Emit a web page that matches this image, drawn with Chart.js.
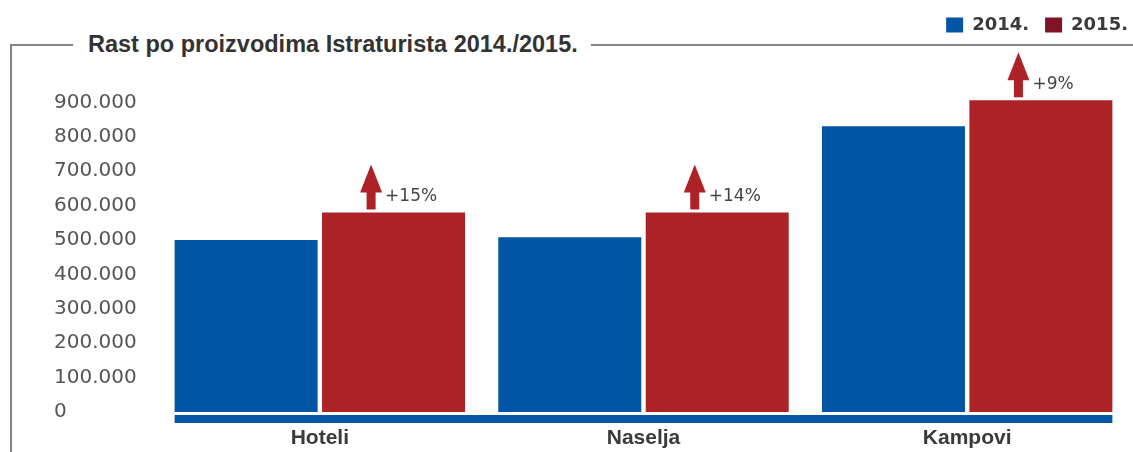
<!DOCTYPE html>
<html>
<head>
<meta charset="utf-8">
<script src="https://cdn.jsdelivr.net/npm/chart.js@4/dist/chart.umd.min.js"></script>
<style>
  body { margin: 0; background: #fff; }
  #wrap { position: relative; width: 1133px; height: 452px; overflow: hidden; background: #fff; }
  #frame { position: absolute; left: 10px; top: 44px; width: 1121px; height: 420px; border: 2px solid #858585; border-bottom: none; }
  #title { position: absolute; left: 73px; top: 31px; padding: 0 13px 0 15px; background: #fff; font: bold 23.5px 'Liberation Sans', Arial, sans-serif; line-height: 26px; color: #333; white-space: nowrap; }
  #chart { position: absolute; left: 0; top: 0; }
</style>
</head>
<body>
<div id="wrap">
  <div id="frame"></div>
  <div id="title">Rast po proizvodima Istraturista 2014./2015.</div>
  <canvas id="chart" width="1133" height="452"></canvas>
</div>
<script>
// Chart data
const categories = ['Hoteli', 'Naselja', 'Kampovi'];
const values2014 = [500000, 508000, 831000];
const values2015 = [580000, 580000, 906000];
const growthLabels = ['+15%', '+14%', '+9%'];
const seriesNames = ['2014.', '2015.'];

const BLUE = '#0055a5';
const RED = '#ad2227';
const LEGEND_COLORS = [BLUE, '#7e1426'];
const LEGEND_PAD = 16;

// thousands with a dot, like the print version
function fmt(v) {
  return String(v).replace(/\B(?=(\d{3})+(?!\d))/g, '.');
}

// keep legend up in the corner but reserve room down to the plot top
const legendSpace = {
  id: 'legendSpace',
  beforeLayout(chart) {
    const legend = chart.legend;
    if (!legend || legend._spaced) return;
    const fit = legend.fit.bind(legend);
    legend.fit = () => { fit(); legend.height = 68; };
    legend._spaced = true;
  },
  afterLayout(chart) {
    // push the items out to the right edge of the page
    if (chart.legend) chart.legend.right = chart.width + LEGEND_PAD - 5;
  }
};

// baseline strip + growth arrows
const extras = {
  id: 'extras',
  afterDatasetsDraw(chart) {
    const ctx = chart.ctx;
    const m0 = chart.getDatasetMeta(0).data;
    const m1 = chart.getDatasetMeta(1).data;
    const y0 = chart.scales.y.getPixelForValue(0);
    const left = m0[0].x - m0[0].width / 2;
    const last = m1[m1.length - 1];
    const right = last.x + last.width / 2;

    ctx.save();
    ctx.fillStyle = BLUE;
    ctx.fillRect(left, y0 + 3, right - left, 8);

    m1.forEach((bar, i) => {
      const x = bar.x - bar.width / 2 + bar.width * 0.343;
      const top = bar.y;
      ctx.fillStyle = RED;
      ctx.fillRect(x - 4.5, top - 21, 9, 18);
      ctx.beginPath();
      ctx.moveTo(x - 11, top - 20);
      ctx.lineTo(x + 11, top - 20);
      ctx.lineTo(x, top - 48);
      ctx.closePath();
      ctx.fill();

      ctx.fillStyle = '#444';
      ctx.font = '17px "DejaVu Sans"';
      ctx.textAlign = 'left';
      ctx.textBaseline = 'middle';
      ctx.fillText(growthLabels[i], x + 14, top - 16);
    });
    ctx.restore();
  }
};

new Chart(document.getElementById('chart'), {
  type: 'bar',
  data: {
    labels: categories,
    datasets: [
      { label: seriesNames[0], data: values2014, backgroundColor: BLUE },
      { label: seriesNames[1], data: values2015, backgroundColor: RED }
    ]
  },
  options: {
    responsive: false,
    animation: false,
    events: [],
    categoryPercentage: 0.911,
    barPercentage: 0.97,
    layout: { padding: { left: 54, right: 4, top: 0, bottom: 0 } },
    plugins: {
      tooltip: { enabled: false },
      legend: {
        position: 'top',
        align: 'end',
        labels: {
          boxWidth: 17,
          boxHeight: 15,
          padding: LEGEND_PAD,
          color: '#3a3a3a',
          font: { family: 'DejaVu Sans', size: 18, weight: 'bold' },
          generateLabels(chart) {
            const items = Chart.defaults.plugins.legend.labels.generateLabels(chart);
            items.forEach((it, i) => {
              it.fillStyle = LEGEND_COLORS[i];
              it.strokeStyle = LEGEND_COLORS[i];
              it.lineWidth = 0;
            });
            return items;
          }
        }
      }
    },
    scales: {
      x: {
        grid: { display: false, drawTicks: false },
        border: { display: false },
        ticks: {
          padding: 14,
          color: '#3a3a3a',
          font: { family: 'Liberation Sans', size: 21, weight: 'bold' }
        },
        afterFit(scale) { scale.height = 40; }
      },
      y: {
        min: 0,
        max: 1000000,
        grid: { display: false, drawTicks: false },
        border: { display: false },
        ticks: {
          stepSize: 100000,
          crossAlign: 'far',
          color: '#555',
          font: { family: 'DejaVu Sans', size: 20 },
          callback: v => (v >= 1000000 ? null : fmt(v))
        },
        afterFit(scale) { scale.width = 104; }
      }
    }
  },
  plugins: [legendSpace, extras]
});
</script>
</body>
</html>
